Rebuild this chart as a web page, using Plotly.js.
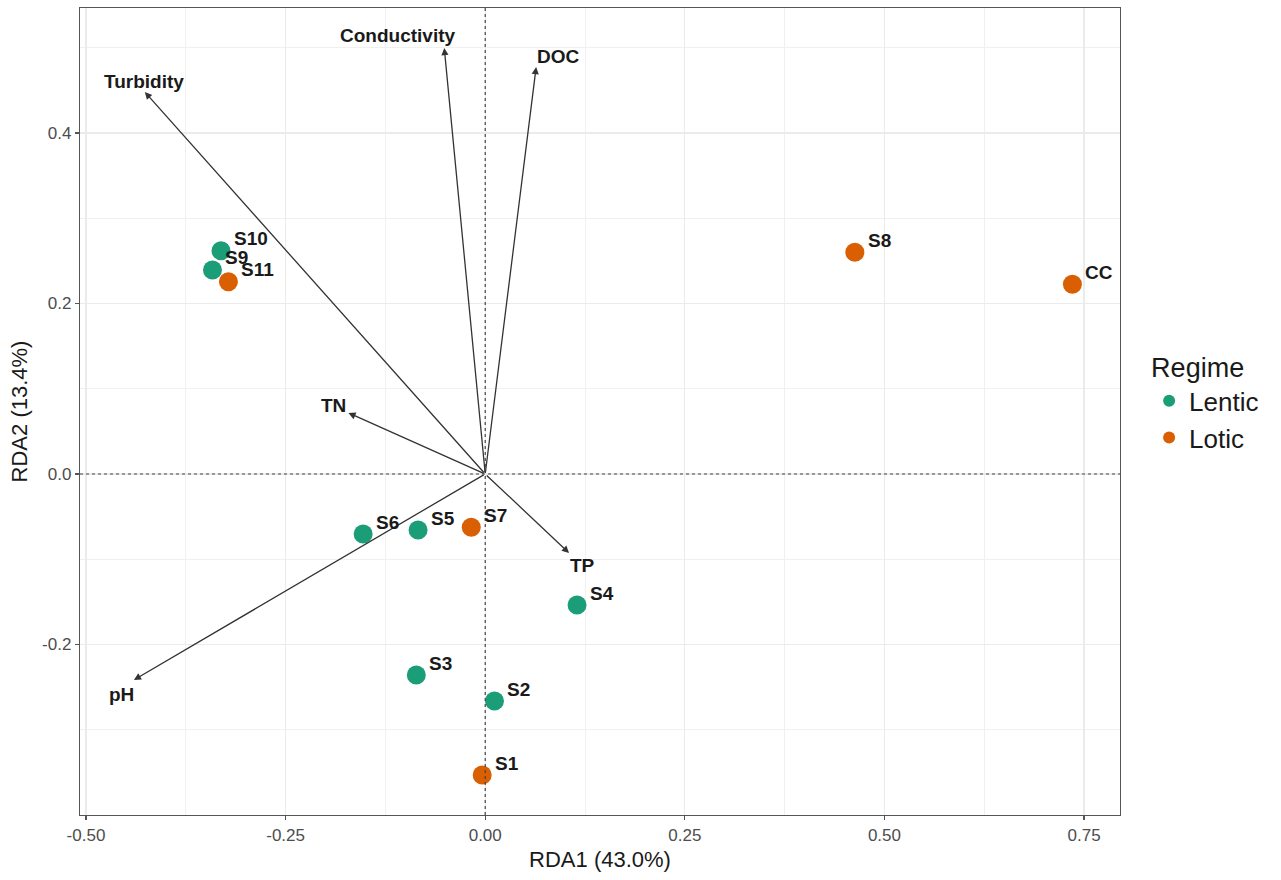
<!DOCTYPE html>
<html>
<head>
<meta charset="utf-8">
<script src="https://cdn.plot.ly/plotly-3.0.1.min.js"></script>
<style>html,body{margin:0;padding:0;background:#fff;}#chart{width:1281px;height:880px;}</style>
</head>
<body>
<div id="chart"></div>
<script>
// Sample scores
const sampleNames = ["S1","S2","S3","S4","S5","S6","S7","S8","S9","S10","S11","CC"];
const sampleRDA1 = [-0.0038, 0.0116, -0.0863, 0.1150, -0.0841, -0.1529, -0.0175, 0.4629, -0.3416, -0.3309, -0.3216, 0.7354];
const sampleRDA2 = [-0.3531, -0.2663, -0.2358, -0.1537, -0.0657, -0.0704, -0.0625, 0.2601, 0.2393, 0.2619, 0.2256, 0.2225];
const sampleRegime = ["Lotic","Lentic","Lentic","Lentic","Lentic","Lentic","Lotic","Lotic","Lentic","Lentic","Lotic","Lotic"];

// Environmental vectors
const envNames = ["Conductivity","DOC","Turbidity","TN","TP","pH"];
const envRDA1 = [-0.0513, 0.0638, -0.4263, -0.1713, 0.1050, -0.4400];
const envRDA2 = [0.4997, 0.4774, 0.4481, 0.0716, -0.0927, -0.2416];

const regimes = ["Lentic","Lotic"];
const regimeColors = {Lentic:"#1B9E77", Lotic:"#D95F02"};

// label offsets (pixels) for vector labels
const envLabelShift = {
  Conductivity:[-47,12], DOC:[22,10], Turbidity:[-1,10], TN:[-15,7], TP:[13,-12], pH:[-12,-15]
};

const FONT = "Liberation Sans, Arial, Helvetica, sans-serif";

const traces = regimes.map(r => {
  const idx = sampleNames.map((_,i)=>i).filter(i => sampleRegime[i] === r);
  return {
    type: "scatter", mode: "markers", name: r,
    x: idx.map(i => sampleRDA1[i]), y: idx.map(i => sampleRDA2[i]),
    text: idx.map(i => sampleNames[i]), hoverinfo: "text+x+y",
    marker: {color: regimeColors[r], size: 19, line: {width: 0}}
  };
});

const annotations = [];
// arrows
envNames.forEach((n,i) => {
  annotations.push({
    x: envRDA1[i], y: envRDA2[i], ax: 0, ay: 0, xref:"x", yref:"y", axref:"x", ayref:"y",
    text: "", showarrow: true, arrowhead: 2, arrowsize: 1.1, arrowwidth: 1.3,
    arrowcolor: "#333333", standoff: 0, startstandoff: 0
  });
  annotations.push({
    x: envRDA1[i], y: envRDA2[i], xref:"x", yref:"y", text: "<b>"+n+"</b>", showarrow:false,
    xanchor:"center", yanchor:"middle", xshift: envLabelShift[n][0], yshift: envLabelShift[n][1],
    font: {family: FONT, size: 19, color: "#1a1a1a"}
  });
});
// sample labels
sampleNames.forEach((n,i) => {
  annotations.push({
    x: sampleRDA1[i], y: sampleRDA2[i], xref:"x", yref:"y", text: "<b>"+n+"</b>", showarrow:false,
    xanchor:"left", yanchor:"middle", xshift: 11, yshift: 12,
    font: {family: FONT, size: 19, color: "#1a1a1a"}
  });
});

const axisCommon = {
  showgrid: true, gridcolor: "#ebebeb", gridwidth: 1.2,
  zeroline: false, showline: true, mirror: true, linecolor: "#555555", linewidth: 1.2,
  ticks: "outside", ticklen: 4, tickcolor: "#555555", tickwidth: 1.2,
  tickfont: {family: FONT, size: 17, color: "#4d4d4d"}
};

const layout = {
  width: 1281, height: 880,
  margin: {l: 80, r: 161, t: 8, b: 65},
  paper_bgcolor: "#ffffff", plot_bgcolor: "#ffffff",
  font: {family: FONT},
  xaxis: Object.assign({}, axisCommon, {
    range: [-0.5075, 0.795], tickvals: [-0.5,-0.25,0,0.25,0.5,0.75],
    ticktext: ["-0.50","-0.25","0.00","0.25","0.50","0.75"],
    minor: {showgrid:true, gridcolor:"#f0f0f0", gridwidth:1, tickvals:[-0.375,-0.125,0.125,0.375,0.625], ticks:""},
    title: {text: "RDA1 (43.0%)", font: {family: FONT, size: 22, color: "#1a1a1a"}, standoff: 8}
  }),
  yaxis: Object.assign({}, axisCommon, {
    range: [-0.4, 0.5466], tickvals: [-0.2,0,0.2,0.4], ticktext: ["-0.2","0.0","0.2","0.4"],
    minor: {showgrid:true, gridcolor:"#f0f0f0", gridwidth:1, tickvals:[-0.3,-0.1,0.1,0.3,0.5], ticks:""},
    title: {text: "RDA2 (13.4%)", font: {family: FONT, size: 22, color: "#1a1a1a"}, standoff: 8}
  }),
  shapes: [
    {type:"line", xref:"x", yref:"paper", x0:0, x1:0, y0:0, y1:1, line:{color:"#444444", width:1.2, dash:"dot"}, layer:"above"},
    {type:"line", xref:"paper", yref:"y", x0:0, x1:1, y0:0, y1:0, line:{color:"#444444", width:1.2, dash:"dot"}, layer:"above"}
  ],
  annotations: annotations,
  showlegend: true,
  legend: {
    x: 1.028, y: 0.512, xanchor: "left", yanchor: "middle",
    title: {text: "Regime", font: {family: FONT, size: 27, color: "#1a1a1a"}},
    font: {family: FONT, size: 26, color: "#1a1a1a"},
    itemsizing: "constant", bgcolor: "rgba(0,0,0,0)", tracegroupgap: 0
  }
};

Plotly.newPlot("chart", traces, layout, {displayModeBar: false, staticPlot: true});
</script>
</body>
</html>
